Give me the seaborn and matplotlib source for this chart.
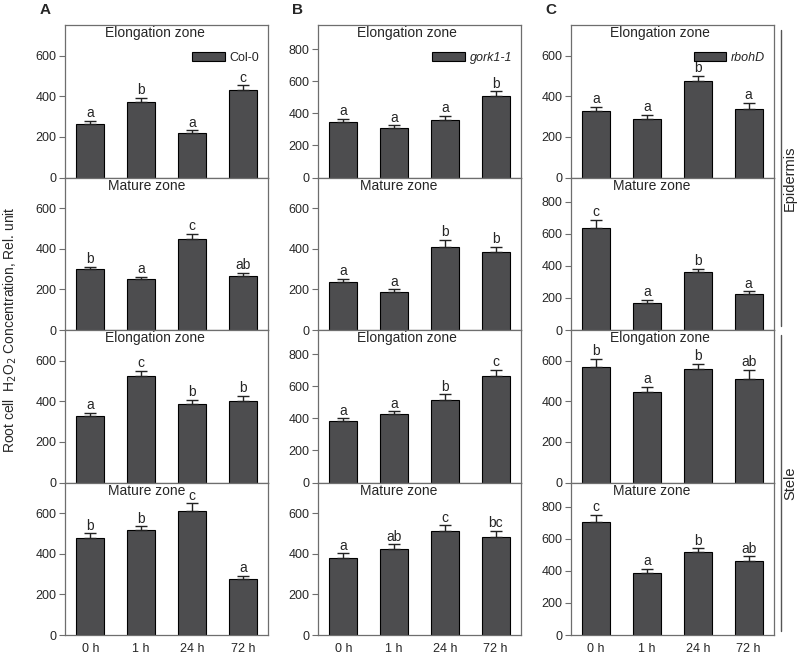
import numpy as np
import pandas as pd
import matplotlib
matplotlib.use('Agg')
import matplotlib.pyplot as plt
from matplotlib.patches import Patch
from matplotlib.lines import Line2D
import seaborn as sns

# x categories and panel labels
times = ["0 h", "1 h", "24 h", "72 h"]
genotypes = ["Col-0", "gork1-1", "rbohD"]
panel_letters = ["A", "B", "C"]
zones = ["Elongation zone", "Mature zone", "Elongation zone", "Mature zone"]
tissues = ["Epidermis", "Stele"]

# means per genotype, rows = epidermis elong, epidermis mature, stele elong, stele mature
col0_mean = [[265, 370, 220, 432], [298, 250, 447, 267], [326, 524, 387, 403], [477, 515, 612, 274]]
col0_err = [[14, 22, 12, 22], [12, 12, 27, 15], [16, 25, 18, 22], [23, 20, 36, 18]]
col0_sig = [["a", "b", "a", "c"], ["b", "a", "c", "ab"], ["a", "c", "b", "b"], ["b", "b", "c", "a"]]

gork_mean = [[344, 306, 360, 506], [235, 187, 409, 384], [383, 425, 514, 664], [380, 424, 510, 482]]
gork_err = [[20, 20, 25, 30], [18, 13, 36, 25], [17, 19, 35, 40], [21, 22, 30, 31]]
gork_sig = [["a", "a", "a", "b"], ["a", "a", "b", "b"], ["a", "a", "b", "c"], ["a", "ab", "c", "bc"]]

rbohd_mean = [[328, 287, 474, 336], [635, 171, 362, 225], [569, 444, 558, 510], [706, 388, 519, 463]]
rbohd_err = [[21, 21, 26, 30], [50, 15, 18, 16], [38, 28, 26, 44], [44, 25, 21, 27]]
rbohd_sig = [["a", "a", "b", "a"], ["c", "a", "b", "a"], ["b", "a", "b", "ab"], ["c", "a", "b", "ab"]]

means = [col0_mean, gork_mean, rbohd_mean]
errs = [col0_err, gork_err, rbohd_err]
sigs = [col0_sig, gork_sig, rbohd_sig]

# y axis top for every panel
ytops = [[750, 750, 750, 750], [950, 750, 950, 750], [750, 950, 750, 950]]

bar_color = '#4d4d4f'
spine_color = '#6e6e6e'

sns.set_style("ticks")
plt.rcParams['font.family'] = ['Liberation Sans', 'DejaVu Sans']

fig, axes = plt.subplots(4, 3, figsize=(8, 6.59), dpi=100,
                         gridspec_kw=dict(hspace=0, wspace=0.244))
fig.subplots_adjust(left=0.08125, right=0.9675, top=0.962, bottom=0.0364)

for c, g in enumerate(genotypes):
    for r in range(4):
        ax = axes[r, c]
        df = pd.DataFrame({"time": times, "value": means[c][r]})
        sns.barplot(data=df, x="time", y="value", ax=ax, color=bar_color,
                    saturation=1, edgecolor='black', linewidth=0.8,
                    width=0.55, errorbar=None)
        # upper error bars only
        ax.errorbar(np.arange(4), means[c][r], yerr=[np.zeros(4), errs[c][r]],
                    fmt='none', ecolor='#222222', elinewidth=1, capsize=4, capthick=1)
        for i in range(4):
            ax.annotate(sigs[c][r][i], (i, means[c][r][i] + errs[c][r][i]),
                        xytext=(0, 0.5), textcoords='offset points',
                        ha='center', va='bottom', fontsize=10)

        top = ytops[c][r]
        ax.set_ylim(0, top)
        ax.set_xlim(-0.5, 3.5)
        ax.set_yticks(np.arange(0, top - 100, 200))
        ax.set_xlabel('')
        ax.set_ylabel('')
        title_x = 0.44 if zones[r].startswith('Elong') else 0.40
        ax.text(title_x, 0.945, zones[r], transform=ax.transAxes,
                ha='center', va='center', fontsize=10)

        for s in ax.spines.values():
            s.set_visible(True)
            s.set_color(spine_color)
            s.set_linewidth(0.9)
        ax.tick_params(axis='y', length=4, width=0.8, color=spine_color,
                       labelsize=9, pad=2)
        ax.tick_params(axis='x', length=0, labelsize=9, pad=6)
        if r < 3:
            ax.set_xticklabels([])

        if r == 0:
            style = 'normal' if c == 0 else 'italic'
            handle = Patch(facecolor=bar_color, edgecolor='black', linewidth=0.8, label=g)
            ax.legend(handles=[handle], loc='upper right', bbox_to_anchor=(1.0, 0.88),
                      frameon=False, handlelength=2.6, handleheight=0.75,
                      handletextpad=0.4, borderaxespad=0.3,
                      prop=dict(size=9, style=style))

    pos = axes[0, c].get_position()
    fig.text(pos.x0 - 0.025, 0.985, panel_letters[c], fontsize=11,
             fontweight='bold', ha='center', va='center')

fig.text(0.013, 0.5, 'Root cell  H$_2$O$_2$ Concentration, Rel. unit',
         rotation=90, ha='center', va='center', fontsize=10)

# tissue brackets on the right
xline = 781 / 800
for k, t in enumerate(tissues):
    top_ax = axes[2 * k, 2].get_position()
    bot_ax = axes[2 * k + 1, 2].get_position()
    y1 = top_ax.y1 - 0.008
    y0 = bot_ax.y0 + 0.006
    fig.add_artist(Line2D([xline, xline], [y0, y1], transform=fig.transFigure,
                          color='#555555', linewidth=1))
    fig.text(0.9875, (y0 + y1) / 2, t, rotation=90, ha='center', va='center', fontsize=10.5)

plt.savefig('out.png', dpi=100)
